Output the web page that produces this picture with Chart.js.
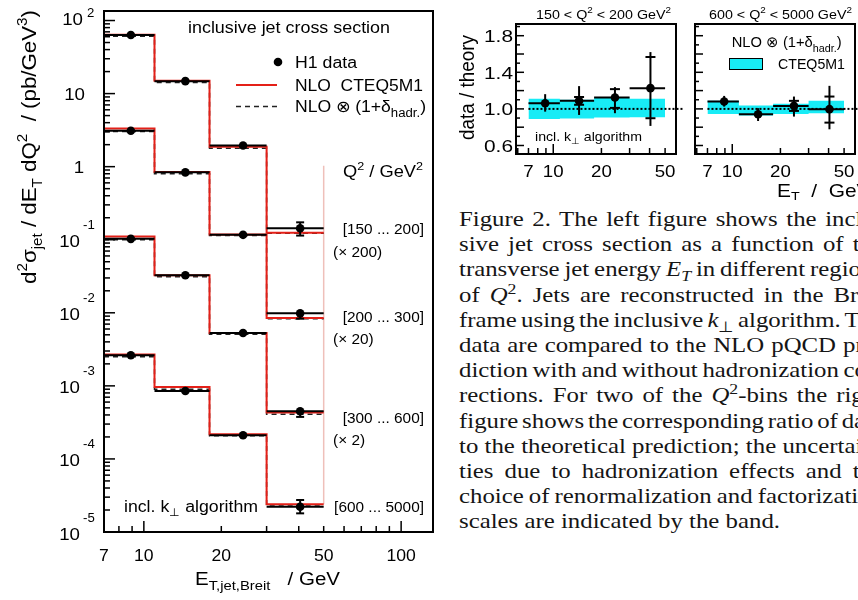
<!DOCTYPE html>
<html><head><meta charset="utf-8">
<title>H1 inclusive jet cross section</title>
<script src="https://cdn.jsdelivr.net/npm/chart.js@4.4.1/dist/chart.umd.min.js"></script>
<style>
html,body{margin:0;padding:0;background:#fff;}
body{width:858px;height:600px;overflow:hidden;position:relative;}
canvas{position:absolute;top:0;}
#cap{position:absolute;left:459px;top:207px;width:700px;font-family:"Liberation Serif","Times New Roman",serif;font-size:21px;color:#151515;transform-origin:0 0;}
#cap div{line-height:25.2px;height:25.2px;white-space:nowrap;}
#cap span{white-space:nowrap;}
#cap sub,#cap sup{font-size:15px;line-height:0;}
</style></head>
<body>
<canvas id="main" width="440" height="600" style="left:0"></canvas>
<canvas id="r1" width="250" height="200" style="left:440px"></canvas>
<canvas id="r2" width="170" height="200" style="left:688px"></canvas>
<div id="cap"></div>
<script>
// ---------------- data ----------------
const binEdges = [7, 11, 18, 30, 50];
const binCenters = [8.9, 14.5, 24.3, 40.5];
const xTickLabels = [7, 10, 20, 50, 100];
const yTickExponents = [-5, -4, -3, -2, -1, 0, 1, 2];
const q2Ranges = ['[150 ... 200]', '[200 ... 300]', '[300 ... 600]', '[600 ... 5000]'];
const q2Factors = ['(× 200)', '(× 20)', '(× 2)', ''];

// Q2 150-200 (x200)
const h1Data150 = [63.4, 14.8, 1.95, 0.1436];
const h1Hi150   = [65.5, 15.3, 2.02, 0.173];
const h1Lo150   = [61.3, 14.3, 1.88, 0.114];
const nlo150    = [64.0, 15.0, 1.87, 0.125];
const nloHad150 = [61.0, 14.2, 1.78, 0.123];
// Q2 200-300 (x20)
const h1Data200 = [3.10, 0.836, 0.1167, 0.00982];
const h1Hi200   = [3.20, 0.865, 0.121, 0.0110];
const h1Lo200   = [3.00, 0.810, 0.112, 0.0083];
const nlo200    = [3.34, 0.847, 0.1178, 0.00848];
const nloHad200 = [3.03, 0.800, 0.114, 0.0083];
// Q2 300-600 (x2)
const h1Data300 = [0.1028, 0.0327, 0.00528, 0.000450];
const h1Hi300   = [0.106, 0.0338, 0.00548, 0.000515];
const h1Lo300   = [0.0995, 0.0316, 0.00508, 0.000376];
const nlo300    = [0.1107, 0.0327, 0.00528, 0.000431];
const nloHad300 = [0.0998, 0.0311, 0.00507, 0.000409];
// Q2 600-5000
const h1Data600 = [0.00262, 0.000851, 0.000211, 2.22e-5];
const h1Hi600   = [0.00271, 0.00088, 0.000219, 2.74e-5];
const h1Lo600   = [0.00253, 0.000822, 0.000203, 1.80e-5];
const nlo600    = [0.00268, 0.000966, 0.000218, 2.39e-5];
const nloHad600 = [0.00251, 0.000900, 0.000208, 2.27e-5];
const edgeLine  = [2.39e-5, 1.03];

// ratio panels
const panelYTicks = [0.6, 1.0, 1.4, 1.8];
const panelXTicks = [7, 10, 20, 50];
const dottedEnd = 65;
const ratio150       = [1.062, 1.088, 1.124, 1.227];
const ratio150TotHi  = [1.161, 1.249, 1.238, 1.621];
const ratio150TotLo  = [0.970, 0.934, 0.953, 0.814];
const ratio150StatHi = [null, 1.13, 1.216, 1.567];
const ratio150StatLo = [null, 1.045, 1.011, 0.898];
const band150Hi = [1.110, 1.099, 1.124, 1.110];
const band150Lo = [0.890, 0.894, 0.905, 0.909];
const ratio600       = [1.080, 0.942, 1.033, 0.997];
const ratio600TotHi  = [1.142, 1.008, 1.135, 1.252];
const ratio600TotLo  = [1.025, 0.868, 0.916, 0.777];
const ratio600StatHi = [null, null, 1.088, 1.135];
const ratio600StatLo = [null, null, 0.978, 0.850];
const band600Hi = [1.088, 1.036, 1.055, 1.088];
const band600Lo = [0.945, 0.927, 0.945, 0.953];

const captionLines = [
 'Figure 2. The left figure shows the inclu-',
 'sive jet cross section as a function of the',
 'transverse jet energy <i>E<sub>T</sub></i> in different regions',
 'of <i>Q</i><sup>2</sup>. Jets are reconstructed in the Breit',
 'frame using the inclusive <i>k</i><sub>⊥</sub> algorithm. The',
 'data are compared to the NLO pQCD pre-',
 'diction with and without hadronization cor-',
 'rections. For two of the <i>Q</i><sup>2</sup>-bins the right',
 'figure shows the corresponding ratio of data',
 'to the theoretical prediction; the uncertain-',
 'ties due to hadronization effects and the',
 'choice of renormalization and factorization',
 'scales are indicated by the band.'
];

// ---------------- helpers ----------------
const SANS = '"Liberation Sans", Arial, Helvetica, sans-serif';
const RED = 'rgb(228,32,24)';
const CYAN = 'rgb(24,236,246)';

function seg(ctx, x1, y1, x2, y2) { ctx.beginPath(); ctx.moveTo(x1, y1); ctx.lineTo(x2, y2); ctx.stroke(); }
function txt(ctx, parts, o) {
  if (typeof parts === 'string') parts = [{t: parts}];
  const base = o.f || 16;
  ctx.save();
  const fonts = parts.map(p => (p.it ? 'italic ' : '') + (p.f || base) + 'px ' + SANS);
  const ws = parts.map((p, i) => { ctx.font = fonts[i]; return ctx.measureText(p.t).width; });
  const nat = ws.reduce((a, b) => a + b, 0);
  const sx = o.w ? o.w / nat : (o.sx || 1.1);
  const tot = nat * sx;
  ctx.translate(o.x, o.y);
  if (o.rot) ctx.rotate(-Math.PI / 2);
  const off = o.align === 'right' ? -tot : o.align === 'center' ? -tot / 2 : 0;
  ctx.translate(off, 0);
  ctx.scale(sx, o.sy || 1);
  ctx.fillStyle = o.color || '#000';
  ctx.textBaseline = 'alphabetic';
  ctx.textAlign = 'left';
  let cx = 0;
  parts.forEach((p, i) => { ctx.font = fonts[i]; ctx.fillText(p.t, cx, p.dy || 0); cx += ws[i]; });
  ctx.restore();
}
function stepPts(vals) { return binEdges.map((e, i) => ({x: e, y: vals[Math.min(i, vals.length - 1)]})); }
function barPts(vals) {
  const pts = [];
  vals.forEach((v, i) => { pts.push({x: binEdges[i], y: v}, {x: binEdges[i + 1], y: v}, {x: binEdges[i + 1], y: null}); });
  return pts;
}
function centerPts(vals) { return vals.map((v, i) => ({x: binCenters[i], y: v})); }

const baseOpts = (pad, xs, ys) => ({
  responsive: false, animation: false, devicePixelRatio: 1, events: [],
  layout: {padding: pad, autoPadding: false},
  plugins: {legend: {display: false}, tooltip: {enabled: false}},
  scales: {x: Object.assign({display: false}, xs), y: Object.assign({display: false}, ys)},
  elements: {line: {tension: 0}}
});

// ---------------- main chart ----------------
const series = [
  {d: h1Data150, hi: h1Hi150, lo: h1Lo150, nlo: nlo150, had: nloHad150},
  {d: h1Data200, hi: h1Hi200, lo: h1Lo200, nlo: nlo200, had: nloHad200},
  {d: h1Data300, hi: h1Hi300, lo: h1Lo300, nlo: nlo300, had: nloHad300},
  {d: h1Data600, hi: h1Hi600, lo: h1Lo600, nlo: nlo600, had: nloHad600}
];
const mainDatasets = [];
mainDatasets.push({label: 'H1 data', data: series.flatMap(s => centerPts(s.d)), showLine: false,
  pointRadius: 4.3, pointBackgroundColor: '#000', pointBorderColor: '#000', pointBorderWidth: 0});
series.forEach((s, i) => mainDatasets.push({label: 'H1 bin ' + q2Ranges[i], data: barPts(s.d), borderColor: '#000', borderWidth: 2, pointRadius: 0, spanGaps: false}));
series.forEach((s, i) => mainDatasets.push({label: 'NLO CTEQ5M1 ' + q2Ranges[i], data: stepPts(s.nlo), stepped: 'before', borderColor: RED, borderWidth: 2, pointRadius: 0}));
series.forEach((s, i) => mainDatasets.push({label: 'NLO x (1+d) ' + q2Ranges[i], data: stepPts(s.had), stepped: 'before', borderColor: '#222', borderWidth: 1.5, borderDash: [5, 4], pointRadius: 0}));
mainDatasets.push({label: 'edge', data: edgeLine.map(v => ({x: binEdges[binEdges.length - 1], y: v})), borderColor: 'rgba(225,140,130,0.55)', borderWidth: 1.5, pointRadius: 0});

const mainPlugin = {
  id: 'mainDeco',
  afterDatasetsDraw(chart) {
    const {ctx, scales: {x, y}} = chart;
    ctx.save(); ctx.strokeStyle = '#000'; ctx.lineWidth = 2;
    series.forEach(s => s.d.forEach((v, i) => {
      const px = x.getPixelForValue(binCenters[i]), py = y.getPixelForValue(v);
      const ph = y.getPixelForValue(s.hi[i]), pl = y.getPixelForValue(s.lo[i]);
      if (py - ph > 5) { seg(ctx, px, py, px, ph); seg(ctx, px - 4, ph, px + 4, ph); }
      if (pl - py > 5) { seg(ctx, px, py, px, pl); seg(ctx, px - 4, pl, px + 4, pl); }
    }));
    ctx.restore();
  },
  afterDraw(chart) {
    const {ctx, chartArea: a, scales: {x, y}} = chart;
    ctx.save();
    ctx.strokeStyle = '#000'; ctx.lineWidth = 2;
    ctx.strokeRect(a.left, a.top, a.right - a.left, a.bottom - a.top);
    ctx.lineWidth = 1.5;
    for (let d = -5; d <= 2; d++) for (let k = 1; k <= 9; k++) {
      const v = k * Math.pow(10, d);
      if (v < y.min || v > y.max) continue;
      const py = y.getPixelForValue(v);
      seg(ctx, a.left, py, a.left + (k === 1 ? 11 : 6), py);
    }
    [8, 9, 10, 20, 30, 40, 50, 60, 70, 80, 90, 100].forEach(v => {
      const px = x.getPixelForValue(v);
      seg(ctx, px, a.bottom, px, a.bottom - ((v === 10 || v === 100) ? 11 : 6));
    });
    // y labels
    yTickExponents.forEach(d => {
      const ty = y.getPixelForValue(Math.pow(10, d));
      if (d === 0) txt(ctx, '1', {x: 79, y: ty + 6, f: 17, align: 'center'});
      else if (d === 1) txt(ctx, '10', {x: 85, y: ty + 6, f: 17, align: 'right'});
      else if (d === 2) { txt(ctx, '10', {x: 83, y: ty + 4.5, f: 17, align: 'right'}); txt(ctx, '2', {x: 87, y: ty - 4, f: 12}); }
      else { txt(ctx, '10', {x: 80, y: ty + 7.5, f: 17, align: 'right'}); txt(ctx, String(d), {x: 83, y: ty - 10.5, f: 12}); }
    });
    xTickLabels.forEach(v => txt(ctx, String(v), {x: x.getPixelForValue(v), y: 561, f: 16, align: 'center'}));
    // axis titles
    txt(ctx, [{t: 'E'}, {t: 'T,jet,Breit', f: 13, dy: 5}, {t: '   / GeV'}], {x: 195, y: 585, f: 18, w: 145});
    txt(ctx, [{t: 'd'}, {t: '2', f: 13, dy: -8}, {t: 'σ'}, {t: 'jet', f: 13, dy: 5}, {t: ' / d'}, {t: 'E'}, {t: 'T', f: 13, dy: 5},
              {t: ' dQ'}, {t: '2', f: 13, dy: -8}, {t: '  / (pb/GeV'}, {t: '3', f: 13, dy: -8}, {t: ')'}],
        {x: 36, y: 284, f: 19, w: 274, rot: true, sy: 1.1});
    // annotations
    txt(ctx, 'inclusive jet cross section', {x: 188, y: 32.5, f: 16, w: 202});
    ctx.fillStyle = '#000'; ctx.beginPath(); ctx.arc(278, 62, 4.3, 0, 2 * Math.PI); ctx.fill();
    txt(ctx, 'H1 data', {x: 295, y: 67.5, f: 16, w: 62});
    ctx.strokeStyle = RED; ctx.lineWidth = 2; seg(ctx, 236, 85, 277, 85);
    txt(ctx, 'NLO  CTEQ5M1', {x: 295, y: 90.7, f: 16, w: 128});
    ctx.strokeStyle = '#222'; ctx.lineWidth = 1.5; ctx.setLineDash([5, 4]); seg(ctx, 236, 106.5, 277, 106.5); ctx.setLineDash([]);
    txt(ctx, [{t: 'NLO ⊗ (1+δ'}, {t: 'hadr.', f: 12, dy: 5}, {t: ')'}], {x: 295, y: 112, f: 16, w: 131});
    txt(ctx, [{t: 'Q'}, {t: '2', f: 11, dy: -7}, {t: ' / GeV'}, {t: '2', f: 11, dy: -7}], {x: 343, y: 176.7, f: 16, w: 80});
    const rangeY = [234, 322, 423, 512], factY = [257, 344, 445];
    q2Ranges.forEach((t, i) => txt(ctx, t, {x: 424, y: rangeY[i], f: 14, align: 'right'}));
    q2Factors.forEach((t, i) => { if (t) txt(ctx, t, {x: 333, y: factY[i], f: 14}); });
    txt(ctx, [{t: 'incl. k'}, {t: '⊥', f: 11, dy: 4}, {t: ' algorithm'}], {x: 124, y: 511.5, f: 16, w: 134});
    ctx.restore();
  }
};

new Chart(document.getElementById('main'), {
  type: 'line',
  data: {datasets: mainDatasets},
  options: baseOpts({left: 104, right: 7, top: 11, bottom: 68},
    {type: 'logarithmic', min: 7, max: 133}, {type: 'logarithmic', min: 1e-5, max: 135}),
  plugins: [mainPlugin]
});

// ---------------- ratio panels ----------------
function panelDatasets(vals, bandHi, bandLo) {
  return [
    {label: 'data/theory', data: centerPts(vals), showLine: false, pointRadius: 4.3, pointBackgroundColor: '#000', pointBorderColor: '#000', pointBorderWidth: 0},
    {label: 'bins', data: barPts(vals), borderColor: '#000', borderWidth: 2, pointRadius: 0},
    {label: 'unity', data: [{x: binEdges[0], y: 1}, {x: dottedEnd, y: 1}], borderColor: '#000', borderWidth: 2, borderDash: [2, 2], pointRadius: 0, clip: false},
    {label: 'band hi', data: stepPts(bandHi), stepped: 'before', borderColor: 'rgba(0,0,0,0)', borderWidth: 1, pointRadius: 0, fill: '+1', backgroundColor: CYAN},
    {label: 'band lo', data: stepPts(bandLo), stepped: 'before', borderColor: 'rgba(0,0,0,0)', borderWidth: 1, pointRadius: 0, fill: false}
  ];
}
function panelPlugin(cfg) {
  return {
    id: cfg.id,
    afterDatasetsDraw(chart) {
      const {ctx, scales: {x, y}} = chart;
      ctx.save(); ctx.strokeStyle = '#000'; ctx.lineWidth = 2;
      binCenters.forEach((xv, i) => {
        const px = x.getPixelForValue(xv);
        seg(ctx, px, y.getPixelForValue(cfg.totHi[i]), px, y.getPixelForValue(cfg.totLo[i]));
        if (cfg.statHi[i] != null) { const s = y.getPixelForValue(cfg.statHi[i]); seg(ctx, px - 5, s, px + 5, s); }
        if (cfg.statLo[i] != null) { const s = y.getPixelForValue(cfg.statLo[i]); seg(ctx, px - 5, s, px + 5, s); }
      });
      ctx.restore();
    },
    afterDraw(chart) {
      const {ctx, chartArea: a, scales: {x, y}} = chart;
      ctx.save();
      ctx.strokeStyle = '#000'; ctx.lineWidth = 2;
      ctx.strokeRect(a.left, a.top, a.right - a.left, a.bottom - a.top);
      ctx.lineWidth = 1.5;
      for (let k = 5; k <= 19; k++) {
        const v = k / 10;
        if (v < y.min || v > y.max) continue;
        const py = y.getPixelForValue(v);
        seg(ctx, a.left, py, a.left + (k % 2 === 0 ? 8 : 4), py);
      }
      [6, 7, 8, 9, 10, 20, 30, 40, 50].forEach(v => {
        const px = x.getPixelForValue(v);
        seg(ctx, px, a.bottom, px, a.bottom - (v === 10 ? 10 : 6));
      });
      if (cfg.yLabels) panelYTicks.forEach(v => txt(ctx, v.toFixed(1), {x: a.left - 3, y: y.getPixelForValue(v) + 6.5, f: 17, w: 29, align: 'right'}));
      panelXTicks.forEach(v => txt(ctx, String(v), {x: x.getPixelForValue(v), y: 176.7, f: 17, align: 'center'}));
      cfg.extra(ctx);
      ctx.restore();
    }
  };
}

new Chart(document.getElementById('r1'), {
  type: 'line',
  data: {datasets: panelDatasets(ratio150, band150Hi, band150Lo)},
  options: baseOpts({left: 76, right: 14, top: 24, bottom: 46},
    {type: 'logarithmic', min: 5.85, max: 58.5}, {type: 'linear', min: 0.507, max: 1.928}),
  plugins: [panelPlugin({id: 'p1', yLabels: true, totHi: ratio150TotHi, totLo: ratio150TotLo, statHi: ratio150StatHi, statLo: ratio150StatLo,
    extra(ctx) {
      txt(ctx, [{t: '150 < Q'}, {t: '2', f: 9, dy: -6}, {t: ' < 200 GeV'}, {t: '2', f: 9, dy: -6}], {x: 163.5, y: 18.7, f: 13, align: 'center'});
      txt(ctx, 'data / theory', {x: 34, y: 140, f: 18, w: 105, rot: true, sy: 1.1});
      txt(ctx, [{t: 'incl. k'}, {t: '⊥', f: 9, dy: 3}, {t: ' algorithm'}], {x: 95, y: 141, f: 13, w: 107});
    }})]
});

new Chart(document.getElementById('r2'), {
  type: 'line',
  data: {datasets: panelDatasets(ratio600, band600Hi, band600Lo)},
  options: baseOpts({left: 7, right: 3, top: 24, bottom: 46},
    {type: 'logarithmic', min: 5.85, max: 58.5}, {type: 'linear', min: 0.507, max: 1.928}),
  plugins: [panelPlugin({id: 'p2', yLabels: false, totHi: ratio600TotHi, totLo: ratio600TotLo, statHi: ratio600StatHi, statLo: ratio600StatLo,
    extra(ctx) {
      txt(ctx, [{t: '600 < Q'}, {t: '2', f: 9, dy: -6}, {t: ' < 5000 GeV'}, {t: '2', f: 9, dy: -6}], {x: 21, y: 18.7, f: 13});
      ctx.fillStyle = CYAN; ctx.fillRect(41, 58, 34, 12);
      ctx.strokeStyle = '#000'; ctx.lineWidth = 1; ctx.strokeRect(41.5, 58.5, 33, 11);
      txt(ctx, [{t: 'NLO ⊗ (1+δ'}, {t: 'hadr.', f: 11, dy: 5}, {t: ')'}], {x: 43.7, y: 47, f: 15, w: 110});
      txt(ctx, 'CTEQ5M1', {x: 90, y: 69.4, f: 15, w: 67});
      txt(ctx, [{t: 'E'}, {t: 'T', f: 13, dy: 4}, {t: '  /  GeV'}], {x: 89, y: 196.7, f: 19});
    }})]
});

// ---------------- caption ----------------
(function () {
  const cap = document.getElementById('cap');
  captionLines.forEach(h => {
    const d = document.createElement('div'); const s = document.createElement('span');
    s.innerHTML = h; d.appendChild(s); cap.appendChild(d);
  });
  const spans = Array.from(cap.querySelectorAll('div > span'));
  const lastW = spans[spans.length - 1].getBoundingClientRect().width;
  const sx = 321 / lastW;
  const Wl = 424 / sx;
  spans.forEach((s, i) => {
    if (i === spans.length - 1) return;
    const w = s.getBoundingClientRect().width;
    const n = (s.textContent.replace(/\s+/g, ' ').trim().match(/ /g) || []).length;
    if (n) s.style.wordSpacing = ((Wl - w) / n) + 'px';
  });
  cap.style.transform = 'scaleX(' + sx + ')';
})();
</script>
</body></html>
